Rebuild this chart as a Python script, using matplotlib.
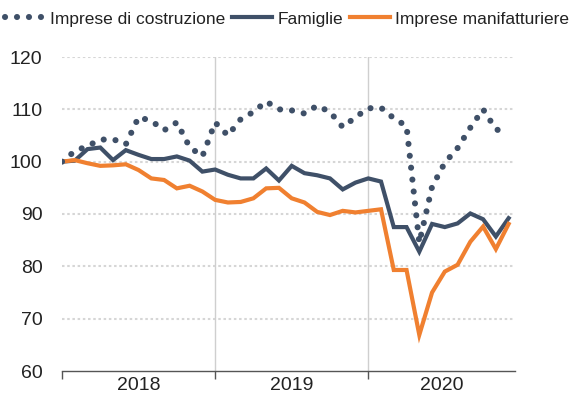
import numpy as np
from matplotlib import pyplot as plt

# indici mensili, gennaio 2018 - dicembre 2020
anni = ["2018", "2019", "2020"]
mesi = np.arange(36)

costruzione = [100.0, 102.0, 103.0, 104.2, 104.3, 103.3, 108.5, 107.8, 106.0, 107.5, 102.8, 101.0,
               107.5, 105.0, 108.1, 109.5, 111.5, 110.0, 109.8, 109.2, 110.7, 109.5, 106.6, 108.5,
               110.2, 110.3, 108.3, 106.8, 84.5, 95.2, 99.8, 102.6, 106.5, 110.0, 106.2, 105.3]
famiglie = [100.0, 100.2, 102.4, 102.7, 100.3, 102.2, 101.3, 100.5, 100.5, 101.0, 100.2, 98.1,
            98.5, 97.5, 96.8, 96.8, 98.7, 96.4, 99.2, 97.8, 97.4, 96.8, 94.7, 96.0,
            96.8, 96.2, 87.5, 87.5, 82.8, 88.1, 87.5, 88.2, 90.1, 89.0, 85.7, 89.2]
manifatturiere = [100.0, 100.3, 99.7, 99.2, 99.3, 99.5, 98.4, 96.8, 96.5, 94.9, 95.4, 94.3,
                  92.7, 92.2, 92.3, 93.0, 94.9, 95.0, 93.0, 92.2, 90.4, 89.8, 90.6, 90.3,
                  90.6, 90.9, 79.3, 79.3, 66.9, 75.0, 79.0, 80.3, 84.7, 87.6, 83.3, 88.1]

BLU = "#3F5068"
ARANCIO = "#F08030"

plt.rcParams["font.family"] = ["Liberation Sans", "DejaVu Sans"]

fig = plt.figure(figsize=(5.74, 4.05), dpi=100)
ax = fig.add_axes([62 / 574, 1 - 371 / 405, 453 / 574, 314 / 405])

# griglia orizzontale punteggiata
for v in range(70, 121, 10):
    ax.axhline(v, color="#D6D6D6", lw=1.5, linestyle=(0, (1.2, 1.3)), zorder=0)
# separatori degli anni
for x in (12, 24):
    ax.axvline(x, color="#CFCFCF", lw=1.0, zorder=0)

ax.plot(mesi, famiglie, color=BLU, lw=3.0, solid_joinstyle="miter", label="Famiglie", zorder=3)
ax.plot(mesi, manifatturiere, color=ARANCIO, lw=3.0, solid_joinstyle="miter",
        label="Imprese manifatturiere", zorder=4)
ax.plot(mesi, costruzione, color=BLU, lw=4.4, linestyle=(0, (0.01, 1.95)),
        dash_capstyle="round", label="Imprese di costruzione", zorder=5)

ax.set_xlim(0, 35.5)
ax.set_ylim(60, 120)
ax.set_yticks(range(60, 121, 10))
ax.tick_params(axis="y", length=0, pad=14, labelsize=14, colors="#222222")

ax.set_xticks([0, 12, 24])
ax.set_xticklabels([])
ax.set_xticks([6, 18, 29.75], minor=True)
ax.set_xticklabels(anni, minor=True)
ax.tick_params(axis="x", which="major", length=6, width=1, color="#555555", direction="out")
ax.tick_params(axis="x", which="minor", length=0, pad=4, labelsize=14, colors="#222222")

for s in ("top", "right", "left"):
    ax.spines[s].set_visible(False)
ax.spines["bottom"].set_color("#555555")
ax.spines["bottom"].set_linewidth(1.0)

h, l = ax.get_legend_handles_labels()
ordine = [2, 0, 1]
fig.legend([h[i] for i in ordine], [l[i] for i in ordine], loc="center",
           bbox_to_anchor=(0.5, 1 - 19 / 405), ncol=3, frameon=False, fontsize=12.5,
           handlelength=2.3, handletextpad=0.3, columnspacing=0.4, borderaxespad=0,
           labelcolor="#222222")

plt.savefig("out.png", dpi=100)
